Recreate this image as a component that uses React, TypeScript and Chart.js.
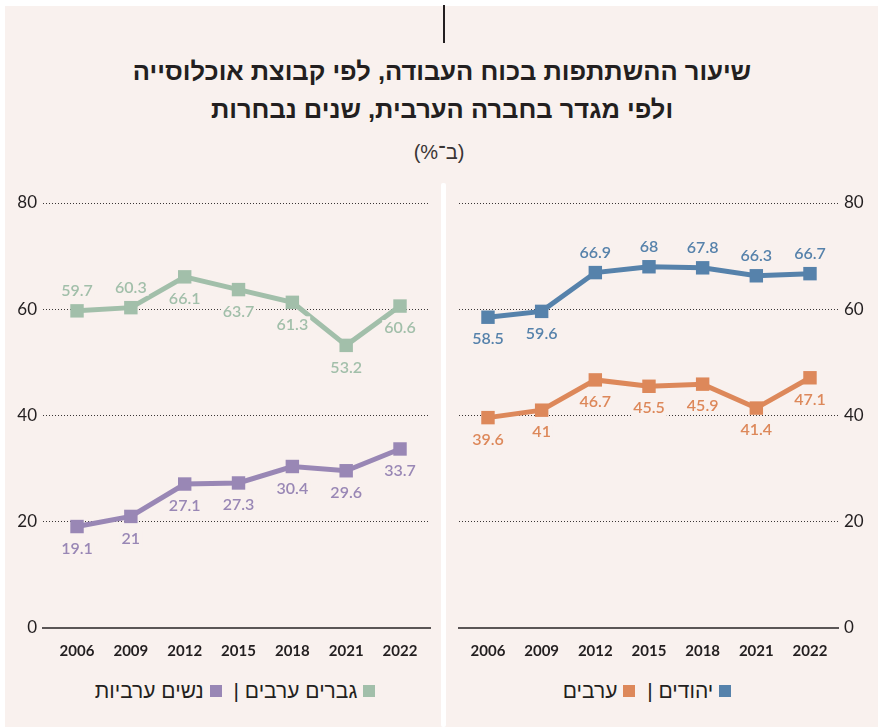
import React, { useEffect, useRef } from "react";
import { Chart, registerables } from "chart.js";

Chart.register(...registerables);

// ---------- data ----------
const years = ["2006", "2009", "2012", "2015", "2018", "2021", "2022"];
const yTicks = [0, 20, 40, 60, 80];

// left panel
const arabMen = [59.7, 60.3, 66.1, 63.7, 61.3, 53.2, 60.6];
const arabWomen = [19.1, 21, 27.1, 27.3, 30.4, 29.6, 33.7];
// right panel
const jews = [58.5, 59.6, 66.9, 68, 67.8, 66.3, 66.7];
const arabs = [39.6, 41, 46.7, 45.5, 45.9, 41.4, 47.1];

// label placement (above / below each point)
const arabMenLabelPos = ["above", "above", "below", "below", "below", "below", "below"];
const arabWomenLabelPos = ["below", "below", "below", "below", "below", "below", "below"];
const jewsLabelPos = ["below", "below", "above", "above", "above", "above", "above"];
const arabsLabelPos = ["below", "below", "below", "below", "below", "below", "below"];

// ---------- styles ----------
const BG = "#f9f1ee";
const TEXT = "#231f20";
const GREEN = "#a2bfaa";
const PURPLE = "#9987b5";
const BLUE = "#5682ab";
const ORANGE = "#dd885a";
const NUM_FONT = "Lato, 'Open Sans', sans-serif";
const HEB_FONT = "'Liberation Sans', 'DejaVu Sans', sans-serif";

const labelPlugin = {
  id: "valueLabels",
  afterDatasetsDraw(chart: any) {
    const ctx = chart.ctx;
    chart.data.datasets.forEach((ds: any, di: number) => {
      const meta = chart.getDatasetMeta(di);
      meta.data.forEach((pt: any, i: number) => {
        const text = String(ds.data[i].y);
        ctx.save();
        ctx.font = `600 16px ${NUM_FONT}`;
        const w = ctx.measureText(text).width;
        const y = pt.y + (ds.labelPos[i] === "above" ? -20 : 22);
        ctx.fillStyle = BG;
        ctx.fillRect(pt.x - w / 2 - 2, y - 8, w + 4, 16);
        ctx.fillStyle = ds.borderColor;
        ctx.textAlign = "center";
        ctx.textBaseline = "middle";
        ctx.fillText(text, pt.x, y);
        ctx.restore();
      });
    });
  },
};

function series(values: number[], color: string, labelPos: string[]) {
  return {
    data: values.map((v, i) => ({ x: i, y: v })),
    borderColor: color,
    backgroundColor: color,
    borderWidth: 5,
    tension: 0,
    pointStyle: "rect",
    pointRadius: 9.5,
    pointBackgroundColor: color,
    pointBorderWidth: 0,
    labelPos,
  };
}

function makeConfig(datasets: any[], side: "left" | "right", xMin: number, xMax: number): any {
  return {
    type: "line",
    data: { datasets },
    options: {
      animation: false,
      responsive: false,
      maintainAspectRatio: false,
      events: [],
      layout: {
        padding:
          side === "left"
            ? { left: 0, right: 11, top: 18, bottom: 0 }
            : { left: 13, right: 0, top: 18, bottom: 0 },
      },
      plugins: {
        legend: { display: false },
        tooltip: { enabled: false },
        title: { display: false },
      },
      scales: {
        x: {
          type: "linear",
          min: xMin,
          max: xMax,
          grid: { display: false, drawTicks: false },
          border: { display: true, color: "#5b5656", width: 2 },
          afterBuildTicks: (s: any) => {
            s.ticks = years.map((_, i) => ({ value: i }));
          },
          afterFit: (s: any) => {
            s.height = 37;
          },
          ticks: {
            callback: (v: number) => years[v],
            color: TEXT,
            font: { family: NUM_FONT, size: 15, weight: "bold" },
            padding: 14,
            maxRotation: 0,
            autoSkip: false,
          },
        },
        y: {
          position: side,
          min: 0,
          max: 80,
          afterBuildTicks: (s: any) => {
            s.ticks = yTicks.map((v) => ({ value: v }));
          },
          afterFit: (s: any) => {
            s.width = side === "left" ? 38 : 40;
          },
          grid: {
            color: (c: any) => (c.tick && c.tick.value === 0 ? "rgba(0,0,0,0)" : "#3a3535"),
            lineWidth: 1,
            drawTicks: false,
          },
          border: { display: false, dash: [1, 2] },
          ticks: {
            color: TEXT,
            font: { family: NUM_FONT, size: 17 },
            padding: 6,
          },
        },
      },
    },
    plugins: [labelPlugin],
  };
}

function ChartCanvas(props: { config: () => any; style: React.CSSProperties; width: number; height: number }) {
  const ref = useRef<HTMLCanvasElement | null>(null);
  useEffect(() => {
    if (!ref.current) return;
    const chart = new Chart(ref.current, props.config());
    return () => chart.destroy();
  }, []);
  return (
    <canvas
      ref={ref}
      width={props.width}
      height={props.height}
      style={{ position: "absolute", width: props.width, height: props.height, ...props.style }}
    />
  );
}

const sq = (color: string): React.CSSProperties => ({
  display: "inline-block",
  width: 12,
  height: 12,
  background: color,
  margin: "0 6px",
  verticalAlign: "middle",
  position: "relative",
  top: -1,
});

export default function App() {
  return (
    <div style={{ position: "absolute", left: 0, top: 0, width: 878, height: 727, background: "#fff", overflow: "hidden" }}>
      <div style={{ position: "absolute", left: 5, top: 6, width: 873, height: 721, background: BG }} />
      <div style={{ position: "absolute", left: 443, top: 5, width: 2, height: 38, background: TEXT }} />
      <div style={{ position: "absolute", left: 441, top: 183, width: 5, height: 544, background: "#fff", borderRadius: 2 }} />

      <div
        dir="rtl"
        style={{
          position: "absolute",
          left: 3,
          width: 878,
          top: 52,
          textAlign: "center",
          fontFamily: HEB_FONT,
          fontWeight: "bold",
          fontSize: 25.5,
          lineHeight: "38px",
          color: TEXT,
        }}
      >
        <div>שיעור ההשתתפות בכוח העבודה, לפי קבוצת אוכלוסייה</div>
        <div>ולפי מגדר בחברה הערבית, שנים נבחרות</div>
      </div>
      <div
        dir="rtl"
        style={{
          position: "absolute",
          left: 0,
          width: 878,
          top: 140,
          textAlign: "center",
          fontFamily: HEB_FONT,
          fontSize: 20,
          lineHeight: "24px",
          color: "#3a3535",
        }}
      >
        (ב־%)
      </div>

      <ChartCanvas
        width={436}
        height={480}
        style={{ left: 5, top: 185 }}
        config={() =>
          makeConfig(
            [series(arabMen, GREEN, arabMenLabelPos), series(arabWomen, PURPLE, arabWomenLabelPos)],
            "left",
            -0.632,
            6.557
          )
        }
      />
      <ChartCanvas
        width={432}
        height={480}
        style={{ left: 446, top: 185 }}
        config={() =>
          makeConfig(
            [series(jews, BLUE, jewsLabelPos), series(arabs, ORANGE, arabsLabelPos)],
            "right",
            -0.54,
            6.522
          )
        }
      />

      <div
        dir="rtl"
        style={{
          position: "absolute",
          left: 20,
          width: 436,
          top: 678,
          textAlign: "center",
          fontFamily: HEB_FONT,
          fontSize: 21,
          lineHeight: "26px",
          color: TEXT,
        }}
      >
        <span style={sq(GREEN)} />
        גברים ערבים | <span style={sq(PURPLE)} />
        נשים ערביות
      </div>
      <div
        dir="rtl"
        style={{
          position: "absolute",
          left: 434,
          width: 432,
          top: 678,
          textAlign: "center",
          fontFamily: HEB_FONT,
          fontSize: 21,
          lineHeight: "26px",
          color: TEXT,
        }}
      >
        <span style={sq(BLUE)} />
        יהודים | <span style={sq(ORANGE)} />
        ערבים
      </div>
    </div>
  );
}
